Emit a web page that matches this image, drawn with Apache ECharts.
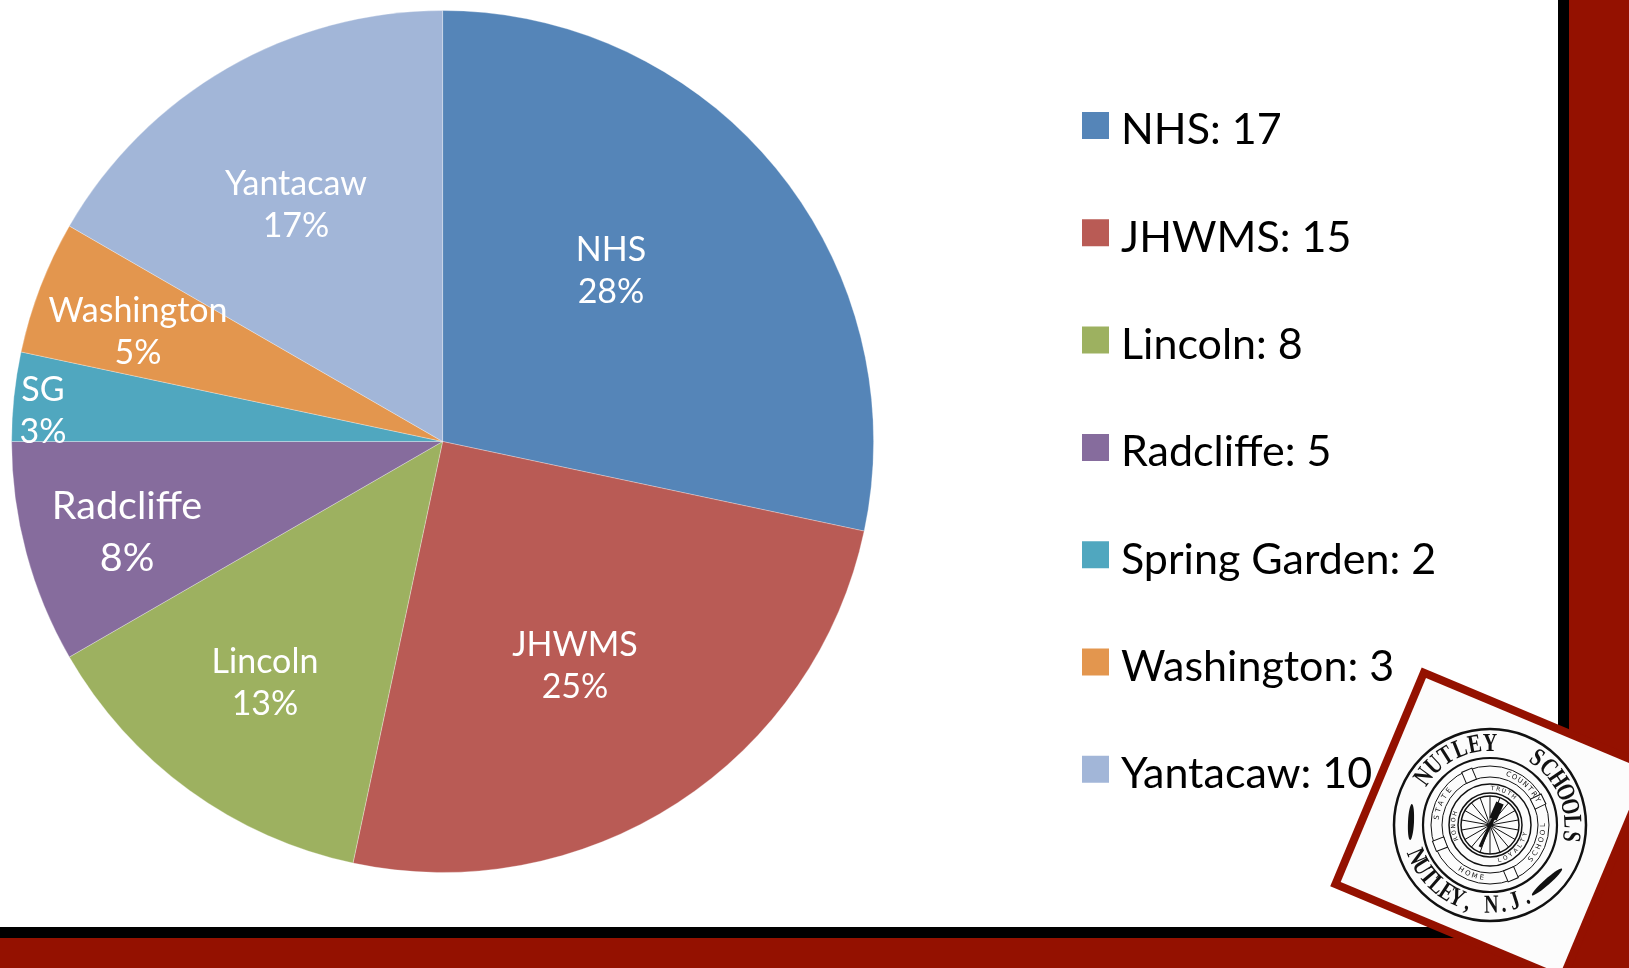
<!DOCTYPE html>
<html><head><meta charset="utf-8">
<style>html,body{margin:0;padding:0;background:#fff}#c{width:1629px;height:968px}</style>
<script src="https://cdn.jsdelivr.net/npm/echarts@6/dist/echarts.min.js"></script>
</head><body><div id="c"></div>
<script>
const schools = ['NHS','JHWMS','Lincoln','Radcliffe','Spring Garden','Washington','Yantacaw'];
const sliceLabels = ['NHS','JHWMS','Lincoln','Radcliffe','SG','Washington','Yantacaw'];
const counts = [17,15,8,5,2,3,10];
const percents = [28,25,13,8,3,5,17];
const colors = ['#5585B8','#B95B55','#9DB160','#866C9D','#50A7BF','#E3964E','#A2B6D8'];
const labelCenters = [[611,271],[575,666],[265,683],[127,532],[43,411],[138,332],[296,205]];
const labelSizes = [34,34,34,39.5,34,34,34];
const labelLines = [42.6,42.6,42.6,52,42.6,42.6,42.6];
const RED='#941100';
const FONT='Lato';

const chart = echarts.init(document.getElementById('c'));
const seal=[];
const C=[1490,825], rad=Math.PI/180;
function ring(r,w){seal.push({type:'circle',z:20,shape:{cx:C[0],cy:C[1],r},style:{fill:'none',stroke:'#111',lineWidth:w}});}
function arc(txt,start,step,R,size,bottom,weight,fam,sy){
  [...txt].forEach((ch,i)=>{const a=(start+i*step)*rad;
    seal.push({type:'text',z:21,x:C[0]+R*Math.sin(a),y:C[1]-R*Math.cos(a),rotation:bottom?Math.PI-a:-a,scaleY:sy||1,
      style:{text:ch,fill:'#111',font:`${weight} ${size}px "${fam}"`,align:'center',verticalAlign:'middle'}});});
}
const frame=[
 {type:'rect',z:10,shape:{x:1569,y:0,width:60,height:968},style:{fill:RED}},
 {type:'rect',z:10,shape:{x:0,y:938,width:1629,height:30},style:{fill:RED}},
 {type:'rect',z:10,shape:{x:1558,y:0,width:11,height:938},style:{fill:'#000'}},
 {type:'rect',z:10,shape:{x:0,y:927,width:1569,height:11},style:{fill:'#000'}}
];
const tilt=-22.7*rad;
const card=[
 {type:'rect',z:18,x:C[0]+2,y:C[1]+1,rotation:tilt,shape:{x:-126,y:-119,width:254,height:237},style:{fill:RED}},
 {type:'rect',z:19,x:C[0]+2,y:C[1]+1,rotation:tilt,shape:{x:-118,y:-111,width:238,height:221},style:{fill:'#FCFCFC'}}
];
ring(96,2.5);ring(67,2.2);ring(59,1);ring(48,1);ring(41,1.5);ring(32,1.5);ring(29,1.5);
for(let d=0;d<360;d+=20){const a=d*rad;seal.push({type:'line',z:20,shape:{x1:C[0],y1:C[1],x2:C[0]+29*Math.sin(a),y2:C[1]-29*Math.cos(a)},style:{stroke:'#111',lineWidth:1}});}
[-23,64,157,249].forEach(d=>{const a=d*rad;seal.push({type:'rect',z:21,x:C[0]+53.5*Math.sin(a),y:C[1]-53.5*Math.cos(a),rotation:-a,shape:{x:-5.5,y:-6,width:11,height:12},style:{fill:'#fff',stroke:'#111',lineWidth:1}});});
arc('NUTLEY',-54,10.8,81,20,false,'bold','Liberation Serif',1.3);
arc('SCHOOLS',35,10.5,81,20,false,'bold','Liberation Serif',1.3);
arc('NUTLEY, N.J.',247,-8.5,81,20,true,'bold','Liberation Serif',1.3);
arc('COUNTRY',20,7,53.5,7,false,'normal','DejaVu Sans');
arc('STATE',-82,8,53.5,7,false,'normal','DejaVu Sans');
arc('SCHOOL',130,-8,53.5,7,true,'normal','DejaVu Sans');
arc('HOME',213,-8,53.5,7,true,'normal','DejaVu Sans');
arc('TRUTH',4,9,36.5,6,false,'normal','DejaVu Sans');
arc('HONOR',-72,-10,36.5,6,false,'normal','DejaVu Sans');
arc('LOYALTY',165,-10,36.5,6,true,'normal','DejaVu Sans');
seal.push({type:'line',z:22,shape:{x1:C[0]-10,y1:C[1]+22,x2:C[0]+4,y2:C[1]-8},style:{stroke:'#111',lineWidth:3}});
seal.push({type:'line',z:22,shape:{x1:C[0]+3,y1:C[1]-6,x2:C[0]+10,y2:C[1]-22},style:{stroke:'#111',lineWidth:8}});
seal.push({type:'ellipse',z:21,x:1411,y:822,rotation:-0.05,shape:{cx:0,cy:0,rx:3,ry:18},style:{fill:'#111'}});
seal.push({type:'ellipse',z:21,x:1547,y:882,rotation:-0.85,shape:{cx:0,cy:0,rx:3,ry:20},style:{fill:'#111'}});

chart.setOption({
  animation:false,
  backgroundColor:'#fff',
  color:colors,
  legend:{
    orient:'vertical',left:1082,top:109,padding:0,itemWidth:27,itemHeight:37,itemGap:64.3,
    icon:'path://M0,0H27V27H0Z M0,37L0,37',selectedMode:false,itemStyle:{borderWidth:0},
    formatter:n=>`${n}: ${counts[schools.indexOf(n)]}`,
    textStyle:{fontFamily:FONT,fontSize:43,color:'#000',lineHeight:37,padding:[0,0,0,7]},
    data:schools
  },
  graphic:{elements:[...frame,...card,...seal]},
  series:[{
    type:'pie',center:[442.6,441.5],radius:[0,431],startAngle:90,clockwise:true,
    silent:true,
    itemStyle:{borderColor:'#ffffff',borderWidth:0.3},
    label:{show:true,position:'inside',color:'#fff',fontFamily:FONT,align:'center',verticalAlign:'middle'},
    labelLine:{show:false},
    labelLayout:p=>{const c=labelCenters[p.dataIndex];return {x:c[0],y:c[1],align:'center',verticalAlign:'middle'};},
    data:schools.map((n,i)=>({name:n,value:counts[i],
      label:{formatter:`${sliceLabels[i]}\n${percents[i]}%`,fontSize:labelSizes[i],lineHeight:labelLines[i]}}))
  }]
});
</script></body></html>
